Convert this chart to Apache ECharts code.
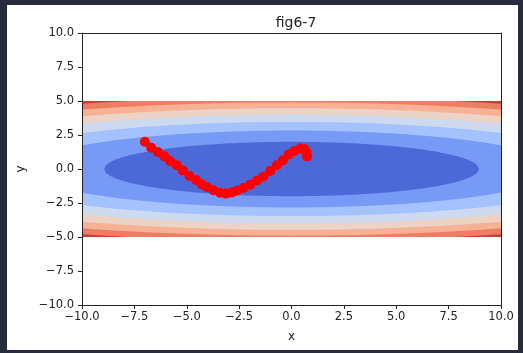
<!DOCTYPE html>
<html>
<head>
<meta charset="utf-8">
<script src="https://cdn.jsdelivr.net/npm/echarts@6.0.0/dist/echarts.min.js"></script>
<style>
  html, body { margin: 0; padding: 0; background: #282b3b; }
  #chart { width: 523px; height: 353px; }
</style>
</head>
<body>
<div id="chart"></div>
<script>
// contour levels of f(x, y) = x^2 / 20 + y^2 (coolwarm bands)
const levels = [0, 4, 8, 12, 16, 20, 24, 28, 32];
const bandColors = ['#4d68d7', '#779af7', '#a3c2ff', '#ccd9ee', '#ecd3c5', '#f7b194', '#ec7f63', '#cb3e38'];
const xWeight = 20;           // f = x^2 / xWeight + y^2
const yLimit = 5;             // mesh covers y in [-5, 5]
const xLimit = 10;

// optimizer path
const pathX = [-7.0, -6.70, -6.38, -6.07, -5.79, -5.48, -5.19, -4.87, -4.55, -4.28, -4.04, -3.72, -3.41, -3.13,
  -2.85, -2.61, -2.29, -1.97, -1.65, -1.34, -1.02, -0.70, -0.41, -0.14, 0.13, 0.42, 0.62, 0.72, 0.74];
const pathY = [2.0, 1.57, 1.25, 0.93, 0.57, 0.27, -0.10, -0.51, -0.83, -1.13, -1.32, -1.57, -1.74, -1.81,
  -1.72, -1.60, -1.40, -1.15, -0.85, -0.55, -0.15, 0.27, 0.64, 1.06, 1.32, 1.50, 1.45, 1.22, 0.93];

const ticks = v => v.toFixed(1).replace('-', '\u2212');
const textColor = '#222';
const font = 'DejaVu Sans';

// bands drawn from the highest level down, each one covering the previous
const bandData = [];
for (let i = levels.length - 1; i >= 1; i--) {
  bandData.push({ value: [levels[i], 0], itemStyle: { color: bandColors[i - 1] } });
}

function renderBand(params, api) {
  const hi = api.value(0);
  const a = Math.sqrt(xWeight * hi), b = Math.sqrt(hi);
  const xm = Math.min(a, xLimit);
  const n = 240;
  const top = [], bottom = [];
  for (let k = 0; k <= n; k++) {
    const x = -xm + 2 * xm * k / n;
    const y = Math.min(b * Math.sqrt(Math.max(0, 1 - x * x / (a * a))), yLimit);
    top.push(api.coord([x, y]));
    bottom.unshift(api.coord([x, -y]));
  }
  return {
    type: 'polygon',
    shape: { points: top.concat(bottom) },
    style: { fill: api.visual('color') }
  };
}

const chart = echarts.init(document.getElementById('chart'), null, { renderer: 'canvas' });

const axisBase = {
  type: 'value', min: -10, max: 10, interval: 2.5,
  axisLine: { show: true, onZero: false, lineStyle: { color: textColor, width: 1 } },
  splitLine: { show: false },
  z: 10
};

chart.setOption({
  animation: false,
  backgroundColor: '#282b3b',
  graphic: [{
    type: 'rect', z: -100, silent: true,
    shape: { x: 7, y: 5, width: 511, height: 345 },
    style: { fill: '#ffffff' }
  }],
  title: {
    text: 'fig6-7', left: 291, top: 11, textAlign: 'center',
    textStyle: { fontFamily: font, fontSize: 14, fontWeight: 'normal', color: textColor }
  },
  grid: { left: 82, right: 22, top: 33, bottom: 48, show: false },
  xAxis: [
    Object.assign({}, axisBase, {
      position: 'bottom', name: 'x', nameLocation: 'middle', nameGap: 26,
      nameTextStyle: { fontFamily: font, fontSize: 12, color: textColor },
      axisTick: { show: true, length: 4, lineStyle: { color: textColor } },
      axisLabel: { margin: 6, formatter: ticks, showMinLabel: true, showMaxLabel: true,
        fontFamily: font, fontSize: 11.5, color: textColor }
    }),
    Object.assign({}, axisBase, {
      position: 'top', axisTick: { show: false }, axisLabel: { show: false }
    })
  ],
  yAxis: [
    Object.assign({}, axisBase, {
      position: 'left', name: 'y', nameLocation: 'middle', nameGap: 55,
      nameTextStyle: { fontFamily: font, fontSize: 12, color: textColor },
      axisTick: { show: true, length: 4, lineStyle: { color: textColor } },
      axisLabel: { margin: 8, formatter: ticks, showMinLabel: true, showMaxLabel: true,
        fontFamily: font, fontSize: 11.5, color: textColor }
    }),
    Object.assign({}, axisBase, {
      position: 'right', axisTick: { show: false }, axisLabel: { show: false }
    })
  ],
  series: [
    {
      type: 'custom',
      coordinateSystem: 'cartesian2d',
      xAxisIndex: 0, yAxisIndex: 0,
      clip: true,
      silent: true,
      renderItem: renderBand,
      data: bandData,
      z: 1
    },
    {
      type: 'line',
      xAxisIndex: 0, yAxisIndex: 0,
      data: pathX.map((x, i) => [x, pathY[i]]),
      symbol: 'circle',
      symbolSize: 10,
      showSymbol: true,
      itemStyle: { color: '#ff0000' },
      lineStyle: { color: '#ff0000', width: 2 },
      z: 5
    }
  ]
});
</script>
</body>
</html>
